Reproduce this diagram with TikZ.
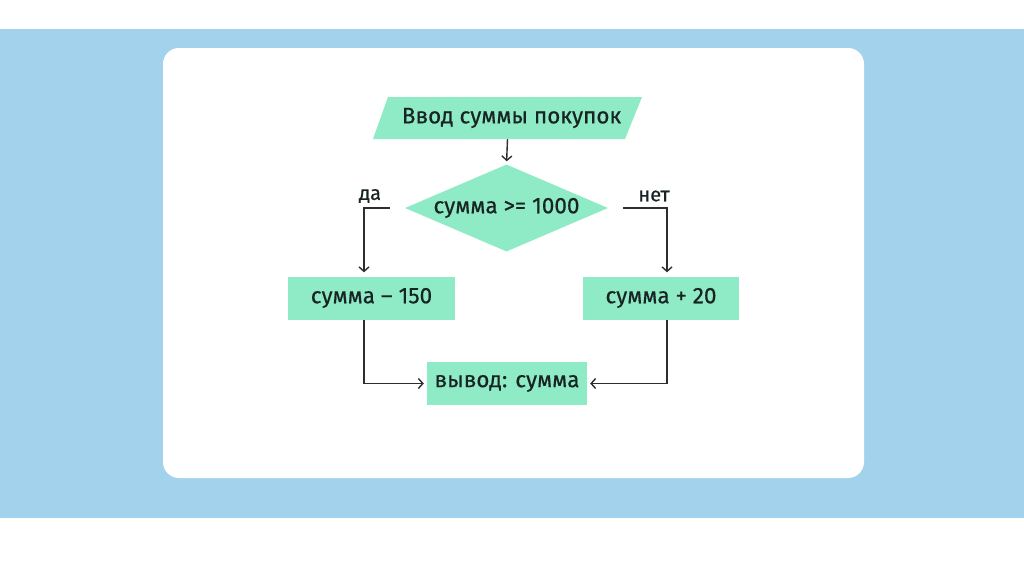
\documentclass[tikz,border=0pt]{standalone}
\usepackage{fontspec}
\setmainfont{Fira Sans}[FakeBold=0.5]
\usetikzlibrary{arrows.meta,shapes.geometric}
\definecolor{bandblue}{HTML}{A3D3EC}
\definecolor{boxgreen}{HTML}{8EEBC6}
\definecolor{txt}{HTML}{182424}
\definecolor{ln}{HTML}{2E2E2E}
\tikzset{
  stepbox/.style={rectangle, fill=boxgreen, inner sep=0pt, text=txt, font=\fontsize{22.5}{25}\selectfont},
  lbl/.style={text=txt, font=\fontsize{20}{22}\selectfont, inner sep=0pt},
  arr/.style={draw=ln, line width=1.4pt, -{Straight Barb[length=4.5pt,width=10pt,line width=1.4pt]}}
}
\begin{document}
\begin{tikzpicture}[x=1pt,y=-1pt]
\useasboundingbox (0,0) rectangle (1024,574);
\fill[white] (0,0) rectangle (1024,574);
\fill[bandblue] (0,29) rectangle (1024,518);
\fill[white, rounded corners=16pt] (163,48) rectangle (864,478);
% parallelogram
\fill[boxgreen] (388,97) -- (642,97) -- (625,139) -- (373,139) -- cycle;
\node[stepbox, fill=none, minimum width=240pt, minimum height=42pt] (in) at (507.5,118) {\hspace*{8pt}Ввод суммы покупок};
\node[stepbox, diamond, shape aspect=2.33, minimum width=203pt, minimum height=87pt] (d) at (506.5,208) {сумма >= 1000};
\node[stepbox, minimum width=167pt, minimum height=43pt] (L) at (371.5,298) {сумма – 150};
\node[stepbox, minimum width=156pt, minimum height=43pt] (R) at (661,298) {сумма + 20};
\node[stepbox, minimum width=160pt, minimum height=43pt] (O) at (507,383.5) {вывод: сумма};
\node[lbl] (da) at (370,196) {да};
\node[lbl] (net) at (654,196) {нет};
\draw[arr, shorten >=3pt] (in.south) -- (d.north);
\draw[arr, shorten >=4pt] ([xshift=-15pt]d.west) -| ([xshift=-7.5pt]L.north);
\draw[arr, shorten >=4pt] ([xshift=15pt]d.east) -| ([xshift=6pt]R.north);
\draw[arr, shorten >=3pt] ([xshift=-7.5pt]L.south) |- (O.west);
\draw[arr, shorten >=3pt] ([xshift=6pt]R.south) |- (O.east);
\end{tikzpicture}
\end{document}
